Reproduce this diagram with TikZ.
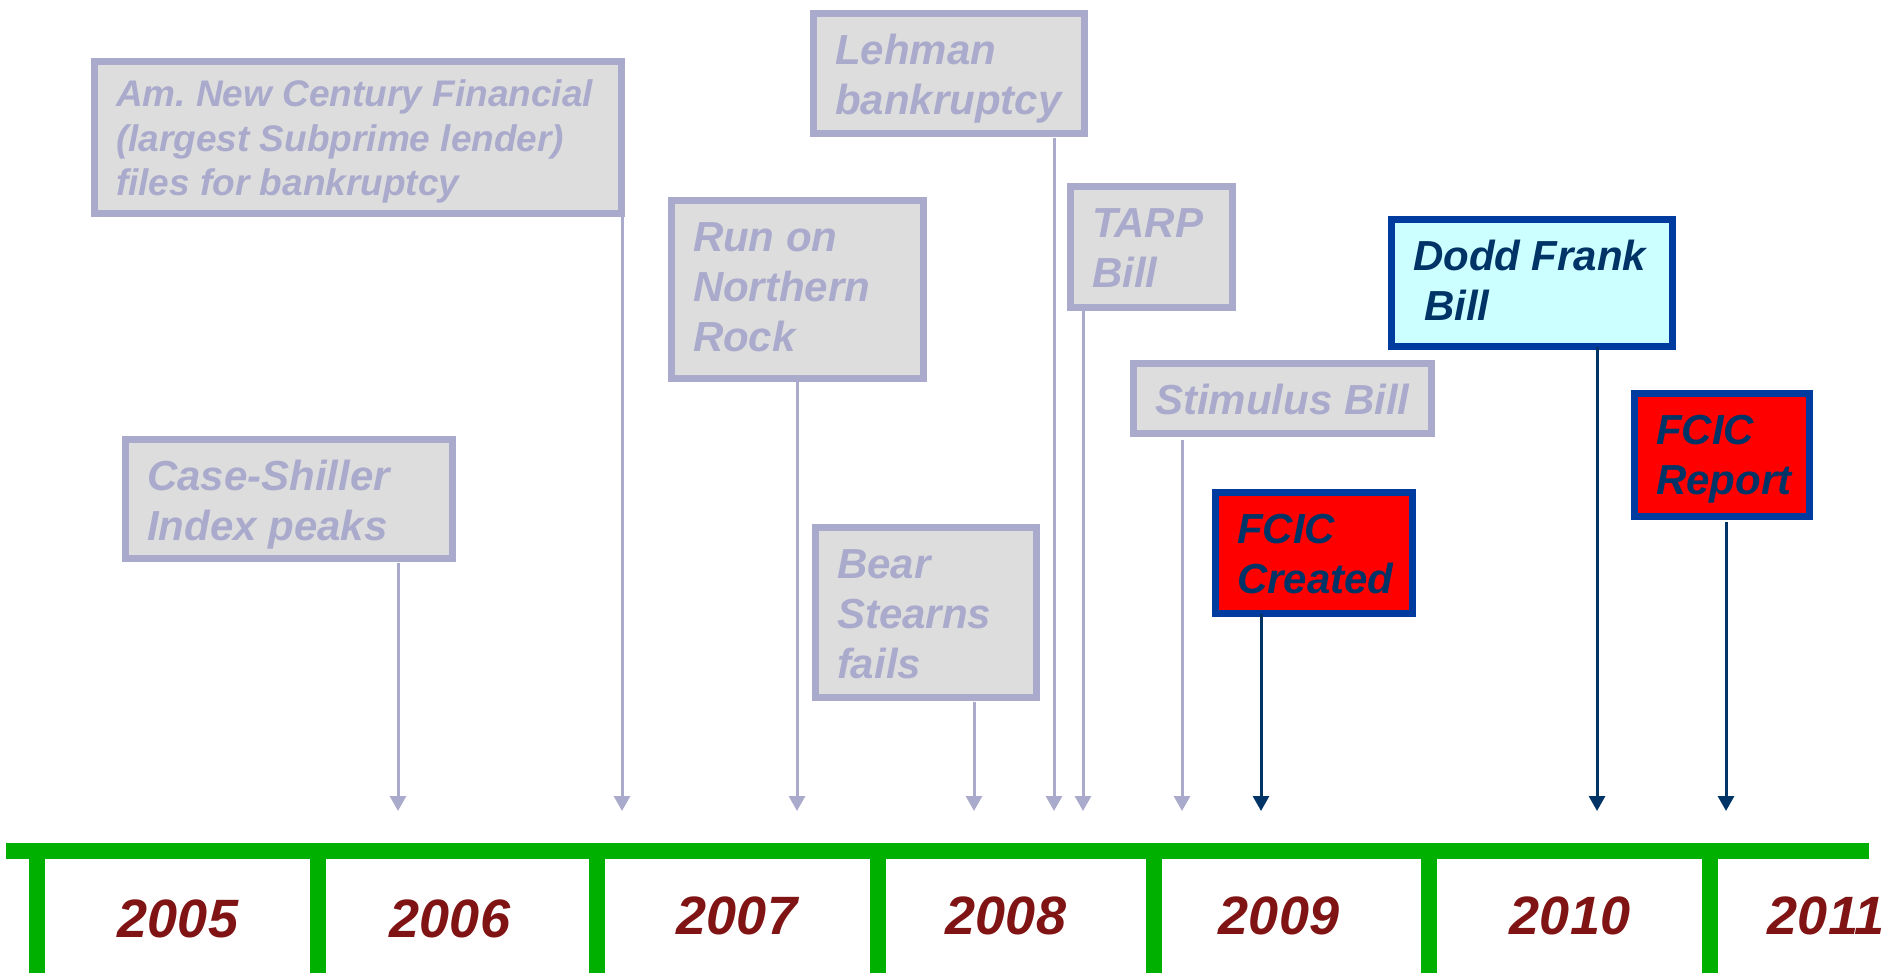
\documentclass[tikz,border=0pt]{standalone}
\usepackage{fontspec}
\setmainfont{Liberation Sans}
\usetikzlibrary{arrows.meta,calc}
\hyphenpenalty=10000
\exhyphenpenalty=10000
\definecolor{lav}{RGB}{170,170,204}
\definecolor{boxgray}{RGB}{221,221,221}
\definecolor{navytext}{RGB}{0,51,102}
\definecolor{blueborder}{RGB}{0,60,160}
\definecolor{lightcyan}{RGB}{204,255,255}
\definecolor{yearred}{RGB}{128,20,20}
\definecolor{barGreen}{RGB}{0,176,0}
\newcommand\evfont{\fontsize{21pt}{25pt}\selectfont\bfseries\itshape}
\newcommand\evsmallfont{\fontsize{18.5pt}{22.2pt}\selectfont\bfseries\itshape}
\newcommand\yearfont{\fontsize{27pt}{30pt}\selectfont\bfseries\itshape}
% #1 first-baseline depth, #2 width, #3 height, #4 text
\newcommand\evtext[4][25.3pt]{\parbox[c][#3][t]{#2}{\raggedright\rule{0pt}{#1}#4}}
\tikzset{
  evbox/.style={draw=lav, fill=boxgray, text=lav, line width=3.5pt,
    inner xsep=10.75pt, inner ysep=0pt, outer sep=0pt, anchor=north west, font=\evfont},
  keybox/.style={evbox, draw=blueborder, text=navytext},
  lavarr/.style={draw=lav, line width=1.5pt, -{Triangle[width=8pt,length=7.5pt]}},
  navyarr/.style={draw=navytext, line width=1.5pt, -{Triangle[width=8pt,length=7.5pt]}},
  yearlabel/.style={text=yearred, font=\yearfont, inner sep=0pt},
}
\begin{document}
\begin{tikzpicture}[x=0.5pt,y=-0.5pt]
\useasboundingbox (0,0) rectangle (1883,973);
\fill[white] (0,0) rectangle (1883,973);

% timeline bar and ticks
\fill[barGreen] (6,843) rectangle (1869,859);
\foreach \tx in {37,318,597,878,1154,1429,1710}
  \fill[barGreen] (\tx-8,850) rectangle (\tx+8,973);

% year labels
\node[yearlabel] (y2005) at (178,919) {2005};
\node[yearlabel] (y2006) at (450,919) {2006};
\node[yearlabel] (y2007) at (737,916) {2007};
\node[yearlabel] (y2008) at (1006,916) {2008};
\node[yearlabel] (y2009) at (1279,916) {2009};
\node[yearlabel] (y2010) at (1570,916) {2010};
\node[yearlabel] (y2011) at (1826,916) {2011};

% event boxes
\node[evbox, font=\evsmallfont] (amnc) at (94.5,61.5)
  {\evtext[22.75pt]{242pt}{76pt}{Am.~New~Century~Financial\\(largest~Subprime~lender)\\files~for~bankruptcy}};
\node[evbox] (cs) at (125.5,439.5)
  {\evtext{142pt}{59.5pt}{Case-Shiller\\Index~peaks}};
\node[evbox] (nr) at (671.5,200.5)
  {\evtext{104.5pt}{89pt}{Run~on\\Northern\\Rock}};
\node[evbox] (lb) at (813.5,13.5)
  {\evtext{114pt}{60pt}{Lehman\\bankruptcy}};
\node[evbox] (tarp) at (1070.5,186.5)
  {\evtext{59.5pt}{60.5pt}{TARP\\Bill}};
\node[evbox] (bs) at (815.5,527.5)
  {\evtext{89pt}{85pt}{Bear\\Stearns\\fails}};
\node[evbox] (stim) at (1133.5,363.5)
  {\evtext{127.5pt}{35pt}{Stimulus~Bill}};
\node[keybox, fill=red] (fc) at (1215.5,492.5)
  {\evtext{77pt}{60.5pt}{FCIC\\Created}};
\node[keybox, fill=lightcyan] (df) at (1391.5,219.5)
  {\evtext{119pt}{63.5pt}{Dodd~Frank\\\hspace*{5.5pt}Bill}};
\node[keybox, fill=red] (fr) at (1634.5,393.5)
  {\evtext{66pt}{61.5pt}{FCIC\\Report}};

% arrow tips on the timeline
\coordinate (tcs) at (398,811);
\coordinate (tamnc) at (622,811);
\coordinate (tnr) at (797,811);
\coordinate (tbs) at (974,811);
\coordinate (tlb) at (1054,811);
\coordinate (ttarp) at (1083,811);
\coordinate (tstim) at (1182,811);
\coordinate (tfc) at (1261,811);
\coordinate (tdf) at (1597,811);
\coordinate (tfr) at (1726,811);

\draw[lavarr] ($(cs.south -| tcs)+(0,4)$) -- (tcs);
\draw[lavarr] ($(amnc.south -| tamnc)+(0,3)$) -- (tamnc);
\draw[lavarr] ($(nr.south -| tnr)+(0,2)$) -- (tnr);
\draw[lavarr] ($(bs.south -| tbs)+(0,4)$) -- (tbs);
\draw[lavarr] ($(lb.south -| tlb)+(0,5)$) -- (tlb);
\draw[lavarr] ($(tarp.south -| ttarp)+(0,1)$) -- (ttarp);
\draw[lavarr] ($(stim.south -| tstim)+(0,6)$) -- (tstim);
\draw[navyarr] (fc.south -| tfc) -- (tfc);
\draw[navyarr] (df.south -| tdf) -- (tdf);
\draw[navyarr] ($(fr.south -| tfr)+(0,5)$) -- (tfr);
\end{tikzpicture}
\end{document}
